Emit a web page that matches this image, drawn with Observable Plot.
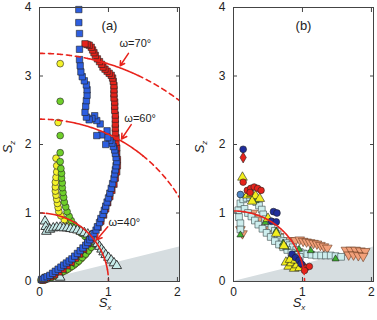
<!DOCTYPE html>
<html><head><meta charset="utf-8">
<script src="https://cdn.jsdelivr.net/npm/d3@7"></script>
<script src="https://cdn.jsdelivr.net/npm/@observablehq/plot@0.6"></script>
<style>
body{margin:0;background:#fff}
#wrap{display:flex;width:377px;height:320px;background:#fff}
</style></head><body><div id="wrap"></div>
<script>
// ---------- data ----------
const xTicks = [0, 1, 2];
const yTicks = [0, 1, 2, 3, 4];
const shadeSx = [0, 2.03];
const shadeSz = [0, 0.505];

// reference circles: radius, Sx where solid part starts / ends
const arcLabelsA = ["ω=70°", "ω=60°", "ω=40°"];
const arcRadiusA = [3.33, 2.37, 1.0];
const arcSolidFromA = [0.7, 0.4, 0.1];
const arcSolidToA = [1.43, 1.5, 0.985];
const arrowFromA = [[1.29, 3.33], [1.33, 2.29], [0.99, 0.80]];
const arrowToA = [[1.17, 3.15], [1.19, 2.08], [0.83, 0.61]];
const labelPosA = [[1.39, 3.47], [1.46, 2.38], [1.23, 0.86]];
const arcRadiusB = [1.03];
const arcSolidFromB = [0.0];
const arcSolidToB = [1.015];

// panel (a)
const blueSquaresA = [[0.03,0.03],[0.07,0.05],[0.11,0.07],[0.15,0.09],[0.19,0.12],[0.23,0.15],[0.27,0.18],[0.31,0.21],[0.35,0.24],[0.39,0.27],[0.43,0.3],[0.47,0.33],[0.51,0.37],[0.55,0.41],[0.59,0.45],[0.63,0.49],[0.67,0.53],[0.7,0.57],[0.73,0.61],[0.76,0.65],[0.79,0.7],[0.82,0.75],[0.84,0.8],[0.87,0.86],[0.89,0.92],[0.92,0.98],[0.94,1.04],[0.96,1.1],[0.98,1.16],[1.0,1.22],[1.02,1.29],[1.04,1.36],[1.06,1.43],[1.08,1.5],[1.09,1.57],[1.1,1.63],[1.11,1.69],[1.12,1.75],[1.11,1.81],[1.1,1.87],[1.09,1.92],[1.07,1.97],[1.05,2.02],[1.02,2.06],[0.99,2.1],[0.96,2.0],[0.98,2.2],[0.9,2.14],[0.83,2.13],[0.88,2.3],[0.83,2.35],[0.8,2.42],[0.76,2.38],[0.72,2.36],[0.68,2.4],[0.66,2.47],[0.67,2.56],[0.68,2.64],[0.69,2.72],[0.69,2.8],[0.68,2.87],[0.65,2.93],[0.62,2.99],[0.6,3.06],[0.59,3.15],[0.58,3.24],[0.58,3.39],[0.58,3.62],[0.57,3.78],[0.57,3.97]];
const redSquaresA = [[0.05,0.02],[0.1,0.04],[0.16,0.07],[0.22,0.1],[0.28,0.14],[0.34,0.18],[0.4,0.23],[0.46,0.28],[0.52,0.34],[0.58,0.4],[0.64,0.47],[0.7,0.55],[0.75,0.62],[0.8,0.7],[0.85,0.79],[0.89,0.88],[0.93,0.97],[0.96,1.06],[0.99,1.15],[1.02,1.24],[1.05,1.33],[1.08,1.42],[1.1,1.51],[1.12,1.6],[1.13,1.69],[1.13,1.78],[1.12,1.87],[1.12,1.95],[1.11,2.03],[1.11,2.1],[1.1,2.17],[1.1,2.24],[1.1,2.3],[1.1,2.37],[1.1,2.43],[1.09,2.5],[1.09,2.56],[1.09,2.62],[1.08,2.68],[1.08,2.74],[1.08,2.8],[1.08,2.86],[1.07,2.92],[1.06,2.97],[1.04,3.01],[1.01,3.04],[0.98,3.07],[0.95,3.1],[0.92,3.13],[0.9,3.17],[0.87,3.21],[0.84,3.25],[0.81,3.3],[0.79,3.34],[0.77,3.38],[0.75,3.42],[0.72,3.45],[0.69,3.46],[0.66,3.47]];
const yellowCirclesA = [[0.02,0.02],[0.08,0.03],[0.14,0.05],[0.2,0.07],[0.26,0.1],[0.32,0.13],[0.38,0.16],[0.44,0.2],[0.5,0.24],[0.55,0.28],[0.6,0.33],[0.65,0.38],[0.69,0.43],[0.73,0.48],[0.77,0.53],[0.74,0.6],[0.68,0.65],[0.62,0.7],[0.55,0.75],[0.48,0.8],[0.42,0.85],[0.36,0.9],[0.31,0.96],[0.28,1.02],[0.27,1.08],[0.26,1.14],[0.25,1.2],[0.24,1.26],[0.23,1.32],[0.23,1.38],[0.23,1.45],[0.24,1.52],[0.25,1.6],[0.25,1.69],[0.24,1.8],[0.27,2.32],[0.3,3.18]];
const greenCirclesA = [[0.05,0.02],[0.11,0.04],[0.17,0.06],[0.23,0.09],[0.29,0.12],[0.35,0.15],[0.41,0.18],[0.47,0.22],[0.52,0.26],[0.57,0.3],[0.62,0.35],[0.67,0.4],[0.71,0.45],[0.75,0.5],[0.79,0.55],[0.76,0.58],[0.71,0.62],[0.66,0.66],[0.6,0.71],[0.55,0.77],[0.5,0.83],[0.46,0.89],[0.43,0.95],[0.4,1.02],[0.38,1.09],[0.36,1.16],[0.35,1.23],[0.34,1.3],[0.33,1.37],[0.33,1.44],[0.32,1.51],[0.32,1.58],[0.31,1.65],[0.3,1.75],[0.3,1.88],[0.3,2.13],[0.3,2.63]];
const trianglesA = [[0.05,0.03],[0.3,0.06],[0.08,0.88],[0.09,0.8],[0.1,0.73],[0.15,0.76],[0.2,0.78],[0.25,0.79],[0.3,0.79],[0.35,0.78],[0.4,0.78],[0.45,0.77],[0.5,0.76],[0.55,0.75],[0.6,0.73],[0.65,0.71],[0.7,0.69],[0.74,0.66],[0.78,0.63],[0.81,0.59],[0.84,0.55],[0.87,0.51],[0.9,0.47],[0.93,0.43],[0.96,0.39],[1.0,0.35],[1.04,0.31],[1.08,0.27],[1.12,0.23]];

// panel (b)
const cyanSquaresB = [[0.07,1.04],[0.1,1.14],[0.08,0.94],[0.1,0.85],[0.1,0.76],[0.14,1.2],[0.19,1.22],[0.24,1.23],[0.29,1.21],[0.33,1.16],[0.37,1.11],[0.41,1.05],[0.43,0.98],[0.46,0.91],[0.5,0.85],[0.55,0.79],[0.6,0.74],[0.64,0.69],[0.68,0.64],[0.72,0.59],[0.76,0.56],[0.81,0.53],[0.86,0.5],[0.91,0.46],[0.96,0.43],[1.01,0.41],[1.07,0.4],[1.13,0.39],[1.2,0.38],[1.27,0.38],[1.34,0.38],[1.41,0.38],[1.48,0.37],[1.56,0.36],[0.16,1.06],[0.21,1.0],[0.26,0.95],[0.31,0.89],[0.36,0.83],[0.42,0.77],[0.48,0.71],[0.54,0.65],[0.6,0.59],[0.66,0.54],[0.72,0.5],[0.78,0.46],[0.84,0.42],[0.9,0.39],[0.96,0.36]];
const orangeTrianglesB = [[0.1,0.76],[0.13,0.7],[0.28,1.0],[0.38,0.93],[0.52,0.78],[0.66,0.66],[0.8,0.6],[0.9,0.6],[0.96,0.61],[1.01,0.59],[1.06,0.58],[1.11,0.57],[1.16,0.56],[1.21,0.55],[1.26,0.53],[1.31,0.51],[1.36,0.49],[1.63,0.46],[1.7,0.46],[1.77,0.46],[1.84,0.45],[1.91,0.44],[1.67,0.39],[1.74,0.39],[1.81,0.38],[1.88,0.37]];
const yellowTrianglesB = [[0.13,1.52],[0.2,1.26],[0.26,1.28],[0.32,1.25],[0.38,1.21],[0.27,1.17],[0.5,0.92],[0.62,0.7],[0.73,0.52],[0.76,0.28],[0.8,0.22],[0.84,0.27],[0.88,0.19],[0.92,0.24],[0.96,0.2],[0.82,0.32],[0.9,0.31]];
const redCirclesB = [[0.14,1.45],[0.2,1.33],[0.25,1.36],[0.3,1.38],[0.35,1.36],[0.4,1.33],[0.24,1.3],[1.0,0.24],[1.05,0.2],[1.1,0.22],[1.03,0.16]];
const redDiamondsB = [[0.14,1.81]];
const navyCirclesB = [[0.14,1.93],[0.58,1.02],[0.63,1.0],[0.55,0.88],[0.62,0.87],[0.85,0.4],[0.9,0.35],[0.95,0.31],[0.98,0.26]];
const steelCirclesB = [[0.1,1.27]];
const greenTrianglesB = [[0.1,0.68],[0.46,0.86],[0.62,0.74],[0.72,0.56],[0.76,0.5],[0.95,0.47],[1.12,0.45],[1.48,0.33],[0.32,1.18],[0.82,0.35]];

// ---------- helpers ----------
const triDown = {draw(ctx, size) {
  const s = Math.sqrt(size / Math.sqrt(3)), h = s * Math.sqrt(3);
  ctx.moveTo(-s, -h / 3); ctx.lineTo(s, -h / 3); ctx.lineTo(0, 2 * h / 3); ctx.closePath();
}};
function arcSegments(radii, from, to) {
  const segs = [];
  radii.forEach((R, i) => {
    const a0 = Math.asin(Math.min(1, from[i] / R));
    const a1 = Math.asin(Math.min(1, to[i] / R));
    const aEnd = Math.asin(Math.min(1, 2.03 / R));
    const mk = (lo, hi, dashed) => {
      const n = 60, pts = [];
      for (let k = 0; k <= n; k++) { const a = lo + (hi - lo) * k / n; pts.push({sx: R * Math.sin(a), sz: R * Math.cos(a)}); }
      segs.push({pts, dashed});
    };
    if (a0 > 0) mk(0, a0, true);
    mk(a0, a1, false);
    if (aEnd > a1) mk(a1, aEnd, true);
  });
  return segs;
}
const X = d => d[0], Y = d => d[1];
const dot = (data, opt) => Plot.dot(data, {x: X, y: Y, stroke: "#222", strokeWidth: 0.6, ...opt});
const fmt = d => String(d);

function axes() {
  return [
    Plot.axisX(xTicks, {anchor: "bottom", tickSize: -4, tickPadding: 10, tickFormat: fmt, label: null, stroke: "#444"}),
    Plot.axisX(xTicks, {anchor: "top", tickSize: -4, tickFormat: () => "", label: null, stroke: "#444"}),
    Plot.axisY(yTicks, {anchor: "left", tickSize: -4, tickPadding: 12, tickFormat: fmt, label: null, stroke: "#444"}),
    Plot.axisY(yTicks, {anchor: "right", tickSize: -4, tickFormat: () => "", label: null, stroke: "#444"}),
    Plot.frame({stroke: "#444", strokeWidth: 1})
  ];
}
function arcMarks(segs) {
  return segs.map(s => Plot.line(s.pts, {x: "sx", y: "sz", stroke: "#e8231c", strokeWidth: 1.6,
    strokeDasharray: s.dashed ? "5,4" : null, clip: true}));
}
function base(width, ml, mr, marks) {
  return Plot.plot({
    width, height: 320, marginLeft: ml, marginRight: mr, marginTop: 7, marginBottom: 39,
    x: {domain: [0, 2.03], axis: null},
    y: {domain: [0, 4], axis: null},
    style: {fontFamily: "'Liberation Sans', Arial, sans-serif", fontSize: "12px", color: "#222", background: "white", overflow: "visible"},
    marks
  });
}
// axis titles, placed at the x-scale position of Sx = 1 (local SVG coordinates)
function addLabels(svg, yl) {
  const sx = svg.scale("x");
  const xl = sx.apply(1) - 3;
  const s = d3.select(svg);
  const tx = s.append("text").attr("x", xl).attr("y", 307).attr("text-anchor", "middle")
    .attr("font-family", "'Liberation Sans', Arial, sans-serif").attr("fill", "#222");
  tx.append("tspan").attr("font-style", "italic").attr("font-size", 13).text("S");
  tx.append("tspan").attr("font-style", "italic").attr("font-size", 8).attr("dy", 3).text("x");
  const ty = s.append("text").attr("transform", `translate(${yl},147) rotate(-90)`).attr("text-anchor", "middle")
    .attr("font-family", "'Liberation Sans', Arial, sans-serif").attr("fill", "#222");
  ty.append("tspan").attr("font-style", "italic").attr("font-size", 13).text("S");
  ty.append("tspan").attr("font-style", "italic").attr("font-size", 8).attr("dy", 3).text("z");
}

// ---------- panel (a) ----------
const shadeData = shadeSx.map((v, i) => [v, shadeSz[i]]);
const arrowsA = arrowFromA.map((f, i) => ({x1: f[0], y1: f[1], x2: arrowToA[i][0], y2: arrowToA[i][1]}));
const labelsA = labelPosA.map((p, i) => ({x: p[0], y: p[1], t: arcLabelsA[i]}));
const chartA = base(190, 39, 11, [
  Plot.areaY(shadeData, {x: X, y: Y, fill: "#d6dde0"}),
  dot(yellowCirclesA, {symbol: "circle", r: 3.4, fill: "#f4f22a"}),
  dot(greenCirclesA, {symbol: "circle", r: 3.4, fill: "#6fcf2a"}),
  dot(trianglesA, {symbol: "triangle", r: 3.6, fill: "#c7ecea", stroke: "#2a2a2a", strokeWidth: 0.9}),
  dot(redSquaresA, {symbol: "square", r: 3.6, fill: "#e5231b"}),
  dot(blueSquaresA, {symbol: "square", r: 3.6, fill: "#2d5ee0"}),
  ...arcMarks(arcSegments(arcRadiusA, arcSolidFromA, arcSolidToA)),
  Plot.arrow(arrowsA, {x1: "x1", y1: "y1", x2: "x2", y2: "y2", stroke: "#e8231c", strokeWidth: 1.5, headLength: 6}),
  Plot.text(labelsA, {x: "x", y: "y", text: "t", fontSize: 11, fill: "#222"}),
  Plot.text(["(a)"], {frameAnchor: "top", dy: 13, fontSize: 13, fill: "#222"}),
  ...axes()
]);
addLabels(chartA, 12);

// ---------- panel (b) ----------
const chartB = base(187, 43, 4, [
  Plot.areaY(shadeData, {x: X, y: Y, fill: "#d6dde0"}),
  dot(orangeTrianglesB, {symbol: triDown, r: 3.6, fill: "#f2a07a", stroke: "#6a3a20"}),
  dot(cyanSquaresB, {symbol: "square", r: 3.8, fill: "#cdeeee", stroke: "#3a4a4a"}),
  dot(greenTrianglesB, {symbol: "triangle", r: 2.6, fill: "#3fb030"}),
  dot(yellowTrianglesB, {symbol: "triangle", r: 3.6, fill: "#f2ee1e"}),
  dot(redCirclesB, {symbol: "circle", r: 3.3, fill: "#e5231b"}),
  dot(redDiamondsB, {symbol: "diamond", r: 3.3, fill: "#e5231b"}),
  dot(navyCirclesB, {symbol: "circle", r: 3.4, fill: "#1f2d9c"}),
  dot(steelCirclesB, {symbol: "circle", r: 3.4, fill: "#4f86c6"}),
  ...arcMarks(arcSegments(arcRadiusB, arcSolidFromB, arcSolidToB)),
  Plot.text(["(b)"], {frameAnchor: "top", dy: 13, fontSize: 13, fill: "#222"}),
  ...axes()
]);
addLabels(chartB, 14);

document.getElementById("wrap").append(chartA, chartB);
</script></body></html>
